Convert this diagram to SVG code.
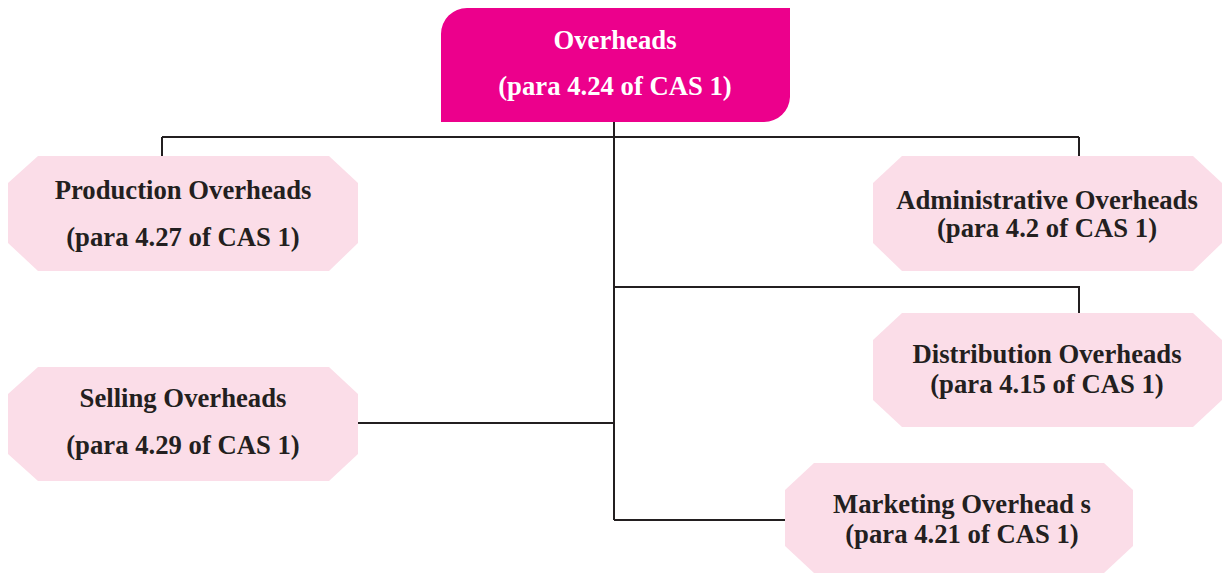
<svg xmlns="http://www.w3.org/2000/svg" width="1223" height="574" viewBox="0 0 1223 574">
<style>
.oct{fill:#FBDDE8;}
.t{font-family:"Liberation Serif","Times New Roman",serif;font-weight:bold;font-size:26.7px;fill:#231F20;text-anchor:middle;}
.tw{font-family:"Liberation Serif","Times New Roman",serif;font-weight:bold;font-size:26.7px;fill:#FFFFFF;text-anchor:middle;}
.c{stroke:#231F20;stroke-width:2;fill:none;}
</style>
<rect width="1223" height="574" fill="#FFFFFF"/>
<g id="connectors">
<path class="c" d="M614,122 V520"/>
<path class="c" d="M162,137 H1079"/>
<path class="c" d="M162,137 V156"/>
<path class="c" d="M1079,137 V156"/>
<path class="c" d="M614,287 H1079 V313"/>
<path class="c" d="M358,423 H614"/>
<path class="c" d="M614,520 H785"/>
</g>
<g id="overheads">
<path d="M441,122 V34 A26,26 0 0 1 467,8 H790 V97 A26,26 0 0 1 764,122 Z" fill="#EC008C"/>
<text class="tw" x="615" y="49">Overheads</text>
<text class="tw" x="615" y="95">(para 4.24 of CAS 1)</text>
</g>
<g id="production">
<polygon class="oct" points="38,156 329,156 358,183 358,243 329,271 38,271 8,243 8,183"/>
<text class="t" x="183" y="199">Production Overheads</text>
<text class="t" x="183" y="246">(para 4.27 of CAS 1)</text>
</g>
<g id="administrative">
<polygon class="oct" points="902,156 1193,156 1222,183 1222,243 1193,271 902,271 873,243 873,183"/>
<text class="t" x="1047" y="209">Administrative Overheads</text>
<text class="t" x="1047" y="237">(para 4.2 of CAS 1)</text>
</g>
<g id="distribution">
<polygon class="oct" points="902,313 1193,313 1222,340 1222,400 1193,427 902,427 873,400 873,340"/>
<text class="t" x="1047" y="363">Distribution Overheads</text>
<text class="t" x="1047" y="393">(para 4.15 of CAS 1)</text>
</g>
<g id="selling">
<polygon class="oct" points="38,367 329,367 358,394 358,454 329,481 38,481 8,454 8,394"/>
<text class="t" x="183" y="407">Selling Overheads</text>
<text class="t" x="183" y="454">(para 4.29 of CAS 1)</text>
</g>
<g id="marketing">
<polygon class="oct" points="814,463 1104,463 1133,490 1133,546 1104,573 814,573 785,546 785,490"/>
<text class="t" x="962" y="513">Marketing Overhead s</text>
<text class="t" x="962" y="543">(para 4.21 of CAS 1)</text>
</g>
</svg>
